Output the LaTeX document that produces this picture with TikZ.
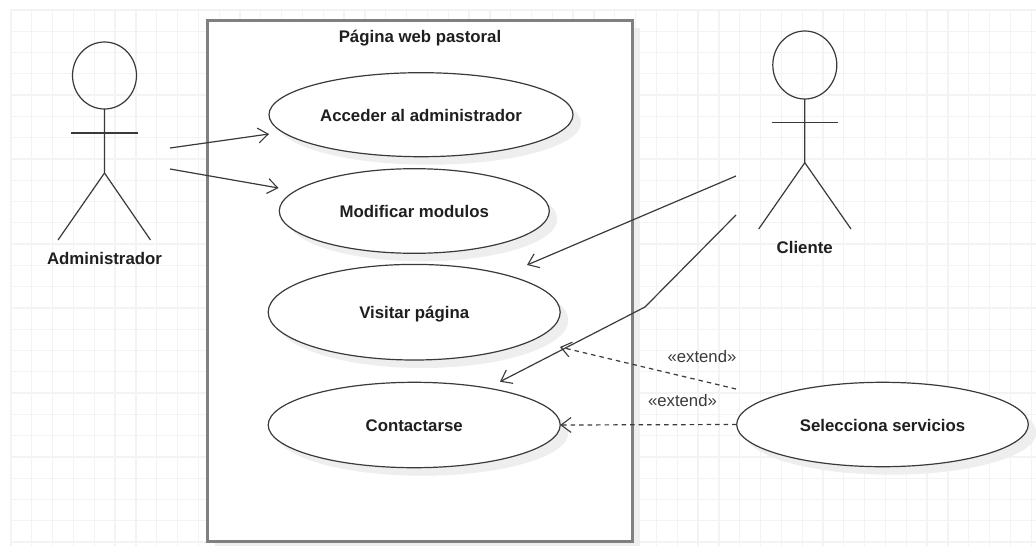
\documentclass[tikz,border=0pt]{standalone}
\usepackage{fontspec}
\setmainfont{Liberation Sans}
\usetikzlibrary{arrows.meta,shapes.geometric}
\definecolor{gridc}{HTML}{F3F3F3}
\definecolor{inkc}{HTML}{3A3A3A}
\definecolor{shadc}{HTML}{EEEEEE}
\definecolor{framec}{HTML}{808080}
\tikzset{
  x=1pt,y=-1pt,
  every node/.style={inner sep=0pt,outer sep=0pt},
  bold label/.style={font=\bfseries\fontsize{16.8}{19}\selectfont,text=black!88,text height=13pt,text depth=0pt},
  ext label/.style={font=\fontsize{16.7}{19}\selectfont,text=inkc},
  stick/.style={draw=inkc,line width=1.2pt},
  assoc/.style={draw=inkc,line width=1.2pt,-{Straight Barb[length=10pt,width=15pt,line width=1.1pt]}},
  extarrow/.style={draw=inkc,line width=1.2pt,dash pattern=on 4.5pt off 4pt,-{Straight Barb[length=10pt,width=15pt,line width=1.1pt,sep=0pt]}},
}
\newcommand{\ucase}[6]{% name, cx, cy, rx, ry, text
  \fill[shadc] (#2+8,#3+8) ellipse [x radius=#4,y radius=#5];
  \node[draw=inkc,line width=1.2pt,fill=white,ellipse,minimum width=2*#4*1pt,minimum height=2*#5*1pt,bold label] (#1) at (#2,#3) {#6};
}
\begin{document}
\begin{tikzpicture}
\useasboundingbox (0,0) rectangle (1036,546);
\fill[white] (0,0) rectangle (1036,546);
% grid
\begin{scope}[draw=gridc,line width=1.3pt]
\foreach \i in {0,...,49} \draw ({11+20.82*\i},9) -- ({11+20.82*\i},546);
\foreach \j in {0,...,25} \draw (11,{10+21.28*\j}) -- (1036,{10+21.28*\j});
\end{scope}
% frame
\fill[shadc] (215,28) rectangle (640,546);
\node[draw=framec,line width=3pt,fill=white,minimum width=425pt,minimum height=521pt] (frame) at (419.5,280.5) {};
\node[bold label] (title) at (420,36.2) {Página web pastoral};
% use cases
\ucase{acc}{421}{114.7}{152}{42}{Acceder al administrador}
\ucase{mod}{414.3}{211}{135}{42.3}{Modificar modulos}
\ucase{vis}{414.2}{312.2}{146}{47.8}{Visitar página}
\ucase{con}{414.2}{425}{146}{42.7}{Contactarse}
\ucase{sel}{882.5}{424.5}{145.8}{42.2}{Selecciona servicios}
% actor 1
\node[draw=inkc,line width=1.2pt,ellipse,minimum width=64pt,minimum height=67pt] (head1) at (104.5,75.5) {};
\coordinate (hip1) at (104.5,173);
\coordinate (armL1) at (71,133);
\coordinate (armR1) at (138,133);
\coordinate (legL1) at (58,240);
\coordinate (legR1) at (150.5,240);
\draw[stick] (head1.south) -- (hip1) -- (legL1);
\draw[stick] (hip1) -- (legR1);
\draw[stick] (armL1) -- (armR1);
\node[bold label] (admin) at (104.5,257.5) {Administrador};
% actor 2
\node[draw=inkc,line width=1.2pt,ellipse,minimum width=64pt,minimum height=68pt] (head2) at (804.8,65) {};
\coordinate (hip2) at (804.8,162.7);
\coordinate (armL2) at (771.7,122.7);
\coordinate (armR2) at (838.3,122.7);
\coordinate (legL2) at (758.7,229);
\coordinate (legR2) at (851,229);
\draw[stick] (head2.south) -- (hip2) -- (legL2);
\draw[stick] (hip2) -- (legR2);
\draw[stick] (armL2) -- (armR2);
\node[bold label] (cli) at (804.7,246.8) {Cliente};
% connectors
\coordinate (a1) at (170,148);
\coordinate (a2) at (170,169);
\coordinate (c1) at (736,176);
\coordinate (c2) at (736,215);
\coordinate (bend) at (645,307);
\coordinate (e1) at (736,389);
\coordinate (t1) at (269,134);
\coordinate (t2) at (278.5,188);
\coordinate (t3) at (527,265);
\coordinate (t4) at (500,381.7);
\coordinate (t5) at (560,347);
\draw[assoc] (a1) -- (t1);
\draw[assoc] (a2) -- (t2);
\draw[assoc] (c1) -- (t3);
\draw[assoc] (c2) -- (bend) -- (t4);
\draw[extarrow] (e1) -- (t5);
\draw[extarrow] (sel.west) -- (con.east);
\node[ext label] (x1) at (702,357) {«extend»};
\node[ext label] (x2) at (682.5,401) {«extend»};
\end{tikzpicture}
\end{document}
